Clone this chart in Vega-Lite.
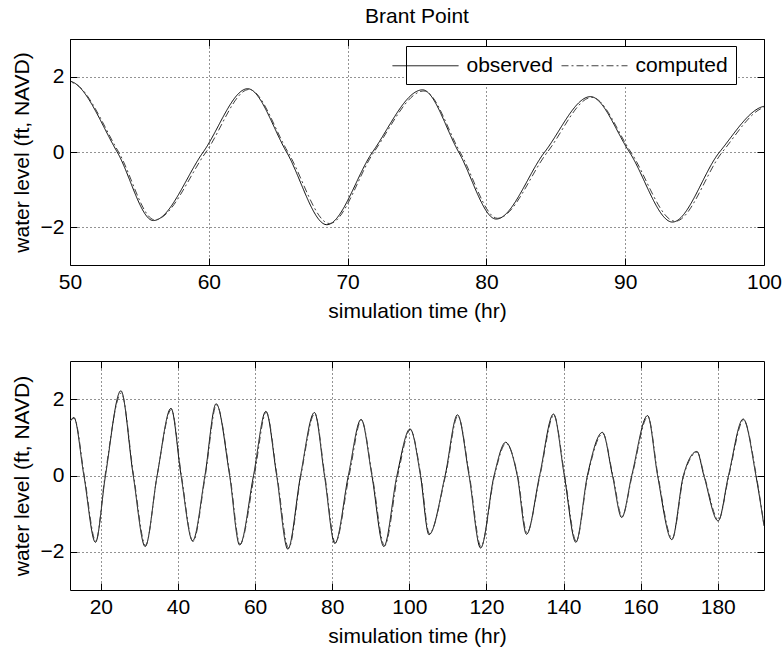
{
  "$schema": "https://vega.github.io/schema/vega-lite/v6.json",
  "background": "white",
  "padding": {"left": 10, "top": 5, "right": 10, "bottom": 5},
  "config": {
    "font": "Liberation Sans",
    "view": {"stroke": "black", "strokeWidth": 1},
    "axis": {
      "labelFont": "Liberation Sans", "labelFontSize": 21, "labelColor": "black",
      "titleFont": "Liberation Sans", "titleFontSize": 21, "titleFontWeight": "normal", "titleColor": "black",
      "domain": false, "tickColor": "black", "tickSize": -7, "labelPadding": 13,
      "gridColor": "black", "gridDash": [1, 3], "gridOpacity": 0.85, "gridWidth": 1,
      "titlePadding": 8
    },
    "legend": {
      "labelFont": "Liberation Sans", "labelFontSize": 21, "labelColor": "black",
      "strokeColor": "black", "fillColor": "white", "padding": 8,
      "symbolType": "M-3,0H3", "symbolSize": 484, "symbolStrokeWidth": 1,
      "labelOffset": 29.5, "columnPadding": 6, "labelLimit": 0
    },
    "concat": {"spacing": 38}
  },
  "datasets": {
    "tide": [
      {"t": 12, "level": 1.41, "series": "observed"},
      {"t": 13.0, "level": 1.52, "series": "observed"},
      {"t": 15.6, "level": 0, "series": "observed"},
      {"t": 18.6, "level": -1.75, "series": "observed"},
      {"t": 21.2, "level": 0, "series": "observed"},
      {"t": 25.2, "level": 2.22, "series": "observed"},
      {"t": 28.4, "level": 0, "series": "observed"},
      {"t": 31.5, "level": -1.86, "series": "observed"},
      {"t": 34.6, "level": 0, "series": "observed"},
      {"t": 38.2, "level": 1.76, "series": "observed"},
      {"t": 40.8, "level": 0, "series": "observed"},
      {"t": 43.8, "level": -1.71, "series": "observed"},
      {"t": 47.0, "level": 0, "series": "observed"},
      {"t": 49.9, "level": 1.88, "series": "observed"},
      {"t": 53.4, "level": 0, "series": "observed"},
      {"t": 56.0, "level": -1.82, "series": "observed"},
      {"t": 59.6, "level": 0, "series": "observed"},
      {"t": 62.8, "level": 1.68, "series": "observed"},
      {"t": 65.6, "level": 0, "series": "observed"},
      {"t": 68.5, "level": -1.93, "series": "observed"},
      {"t": 71.8, "level": 0, "series": "observed"},
      {"t": 75.4, "level": 1.65, "series": "observed"},
      {"t": 78.0, "level": 0, "series": "observed"},
      {"t": 80.7, "level": -1.78, "series": "observed"},
      {"t": 84.2, "level": 0, "series": "observed"},
      {"t": 87.5, "level": 1.47, "series": "observed"},
      {"t": 90.3, "level": 0, "series": "observed"},
      {"t": 93.4, "level": -1.86, "series": "observed"},
      {"t": 96.8, "level": 0, "series": "observed"},
      {"t": 100.2, "level": 1.22, "series": "observed"},
      {"t": 102.9, "level": 0, "series": "observed"},
      {"t": 105.1, "level": -1.55, "series": "observed"},
      {"t": 109.3, "level": 0, "series": "observed"},
      {"t": 112.5, "level": 1.59, "series": "observed"},
      {"t": 115.5, "level": 0, "series": "observed"},
      {"t": 118.5, "level": -1.90, "series": "observed"},
      {"t": 122.0, "level": 0, "series": "observed"},
      {"t": 125.0, "level": 0.87, "series": "observed"},
      {"t": 128.0, "level": 0, "series": "observed"},
      {"t": 130.4, "level": -1.54, "series": "observed"},
      {"t": 133.8, "level": 0, "series": "observed"},
      {"t": 137.4, "level": 1.61, "series": "observed"},
      {"t": 140.2, "level": 0, "series": "observed"},
      {"t": 143.2, "level": -1.75, "series": "observed"},
      {"t": 146.2, "level": 0, "series": "observed"},
      {"t": 150.1, "level": 1.13, "series": "observed"},
      {"t": 152.7, "level": 0, "series": "observed"},
      {"t": 155.1, "level": -1.10, "series": "observed"},
      {"t": 157.7, "level": 0, "series": "observed"},
      {"t": 161.8, "level": 1.57, "series": "observed"},
      {"t": 164.4, "level": 0, "series": "observed"},
      {"t": 168.1, "level": -1.68, "series": "observed"},
      {"t": 171.1, "level": 0, "series": "observed"},
      {"t": 174.6, "level": 0.63, "series": "observed"},
      {"t": 176.4, "level": 0, "series": "observed"},
      {"t": 180.1, "level": -1.19, "series": "observed"},
      {"t": 182.8, "level": 0, "series": "observed"},
      {"t": 186.6, "level": 1.48, "series": "observed"},
      {"t": 189.9, "level": 0, "series": "observed"},
      {"t": 192, "level": -1.32, "series": "observed"},
      {"t": 12, "level": 1.43, "series": "computed"},
      {"t": 13.1, "level": 1.50, "series": "computed"},
      {"t": 15.7, "level": 0, "series": "computed"},
      {"t": 18.7, "level": -1.72, "series": "computed"},
      {"t": 21.1, "level": 0, "series": "computed"},
      {"t": 25.3, "level": 2.16, "series": "computed"},
      {"t": 28.5, "level": 0, "series": "computed"},
      {"t": 31.6, "level": -1.83, "series": "computed"},
      {"t": 34.6, "level": 0, "series": "computed"},
      {"t": 38.3, "level": 1.73, "series": "computed"},
      {"t": 40.9, "level": 0, "series": "computed"},
      {"t": 43.9, "level": -1.73, "series": "computed"},
      {"t": 47.1, "level": 0, "series": "computed"},
      {"t": 50.0, "level": 1.85, "series": "computed"},
      {"t": 53.5, "level": 0, "series": "computed"},
      {"t": 56.1, "level": -1.80, "series": "computed"},
      {"t": 59.8, "level": 0, "series": "computed"},
      {"t": 62.9, "level": 1.66, "series": "computed"},
      {"t": 65.7, "level": 0, "series": "computed"},
      {"t": 68.7, "level": -1.90, "series": "computed"},
      {"t": 71.9, "level": 0, "series": "computed"},
      {"t": 75.5, "level": 1.62, "series": "computed"},
      {"t": 78.1, "level": 0, "series": "computed"},
      {"t": 80.8, "level": -1.76, "series": "computed"},
      {"t": 84.4, "level": 0, "series": "computed"},
      {"t": 87.6, "level": 1.45, "series": "computed"},
      {"t": 90.4, "level": 0, "series": "computed"},
      {"t": 93.6, "level": -1.84, "series": "computed"},
      {"t": 97.0, "level": 0, "series": "computed"},
      {"t": 100.3, "level": 1.20, "series": "computed"},
      {"t": 103.0, "level": 0, "series": "computed"},
      {"t": 105.2, "level": -1.52, "series": "computed"},
      {"t": 109.4, "level": 0, "series": "computed"},
      {"t": 112.6, "level": 1.56, "series": "computed"},
      {"t": 115.6, "level": 0, "series": "computed"},
      {"t": 118.6, "level": -1.86, "series": "computed"},
      {"t": 122.1, "level": 0, "series": "computed"},
      {"t": 125.1, "level": 0.84, "series": "computed"},
      {"t": 128.1, "level": 0, "series": "computed"},
      {"t": 130.5, "level": -1.50, "series": "computed"},
      {"t": 133.9, "level": 0, "series": "computed"},
      {"t": 137.5, "level": 1.58, "series": "computed"},
      {"t": 140.3, "level": 0, "series": "computed"},
      {"t": 143.3, "level": -1.72, "series": "computed"},
      {"t": 146.3, "level": 0, "series": "computed"},
      {"t": 150.2, "level": 1.10, "series": "computed"},
      {"t": 152.8, "level": 0, "series": "computed"},
      {"t": 155.2, "level": -1.07, "series": "computed"},
      {"t": 157.8, "level": 0, "series": "computed"},
      {"t": 161.9, "level": 1.54, "series": "computed"},
      {"t": 164.5, "level": 0, "series": "computed"},
      {"t": 168.2, "level": -1.65, "series": "computed"},
      {"t": 171.2, "level": 0, "series": "computed"},
      {"t": 174.7, "level": 0.61, "series": "computed"},
      {"t": 176.5, "level": 0, "series": "computed"},
      {"t": 180.2, "level": -1.16, "series": "computed"},
      {"t": 182.9, "level": 0, "series": "computed"},
      {"t": 186.7, "level": 1.45, "series": "computed"},
      {"t": 190.0, "level": 0, "series": "computed"},
      {"t": 192, "level": -1.30, "series": "computed"}
    ]
  },
  "vconcat": [
    {
      "title": {"text": "Brant Point", "font": "Liberation Sans", "fontSize": 21, "fontWeight": "normal", "color": "black", "anchor": "middle", "offset": 12},
      "width": 694,
      "height": 226,
      "data": {"name": "tide"},
      "layer": [
        {
          "transform": [{"filter": "datum.t >= 47 && datum.t <= 103"}],
          "mark": {"type": "line", "interpolate": "monotone", "clip": true, "strokeWidth": 1},
          "encoding": {
            "x": {"field": "t", "type": "quantitative", "scale": {"domain": [50, 100], "nice": false, "zero": false},
                  "axis": {"orient": "bottom", "values": [50, 60, 70, 80, 90, 100], "title": "simulation time (hr)", "grid": true, "labelFlush": false}},
            "y": {"field": "level", "type": "quantitative", "scale": {"domain": [-3, 3], "nice": false},
                  "axis": {"orient": "left", "values": [-2, 0, 2], "title": "water level (ft, NAVD)", "grid": true}},
            "color": {"field": "series", "type": "nominal", "scale": {"domain": ["observed", "computed"], "range": ["#000000", "#404040"]},
                      "legend": {"orient": "none", "legendX": 336, "legendY": 7, "direction": "horizontal", "title": null}},
            "strokeDash": {"field": "series", "type": "nominal", "scale": {"domain": ["observed", "computed"], "range": [[1, 0], [7, 3, 2, 3]]},
                      "legend": {"orient": "none", "legendX": 336, "legendY": 7, "direction": "horizontal", "title": null}}
          }
        },
        {
          "transform": [{"filter": "datum.t >= 50 && datum.t <= 100"}],
          "mark": {"type": "point", "opacity": 0, "clip": true},
          "encoding": {
            "x": {"field": "t", "type": "quantitative", "axis": {"orient": "top", "values": [50, 60, 70, 80, 90, 100], "labels": false, "title": null, "grid": false}},
            "y": {"field": "level", "type": "quantitative", "axis": {"orient": "right", "values": [-2, 0, 2], "labels": false, "title": null, "grid": false}}
          }
        }
      ],
      "resolve": {"axis": {"x": "independent", "y": "independent"}}
    },
    {
      "width": 694,
      "height": 229,
      "data": {"name": "tide"},
      "layer": [
        {
          "mark": {"type": "line", "interpolate": "monotone", "clip": true, "strokeWidth": 1},
          "encoding": {
            "x": {"field": "t", "type": "quantitative", "scale": {"domain": [12, 192], "nice": false, "zero": false},
                  "axis": {"orient": "bottom", "values": [20, 40, 60, 80, 100, 120, 140, 160, 180], "title": "simulation time (hr)", "grid": true}},
            "y": {"field": "level", "type": "quantitative", "scale": {"domain": [-3, 3], "nice": false},
                  "axis": {"orient": "left", "values": [-2, 0, 2], "title": "water level (ft, NAVD)", "grid": true}},
            "color": {"field": "series", "type": "nominal", "scale": {"domain": ["observed", "computed"], "range": ["#000000", "#404040"]}, "legend": null},
            "strokeDash": {"field": "series", "type": "nominal", "scale": {"domain": ["observed", "computed"], "range": [[1, 0], [7, 3, 2, 3]]}, "legend": null}
          }
        },
        {
          "mark": {"type": "point", "opacity": 0, "clip": true},
          "encoding": {
            "x": {"field": "t", "type": "quantitative", "axis": {"orient": "top", "values": [20, 40, 60, 80, 100, 120, 140, 160, 180], "labels": false, "title": null, "grid": false}},
            "y": {"field": "level", "type": "quantitative", "axis": {"orient": "right", "values": [-2, 0, 2], "labels": false, "title": null, "grid": false}}
          }
        }
      ],
      "resolve": {"axis": {"x": "independent", "y": "independent"}}
    }
  ],
  "resolve": {"scale": {"color": "independent", "strokeDash": "independent"}}
}
